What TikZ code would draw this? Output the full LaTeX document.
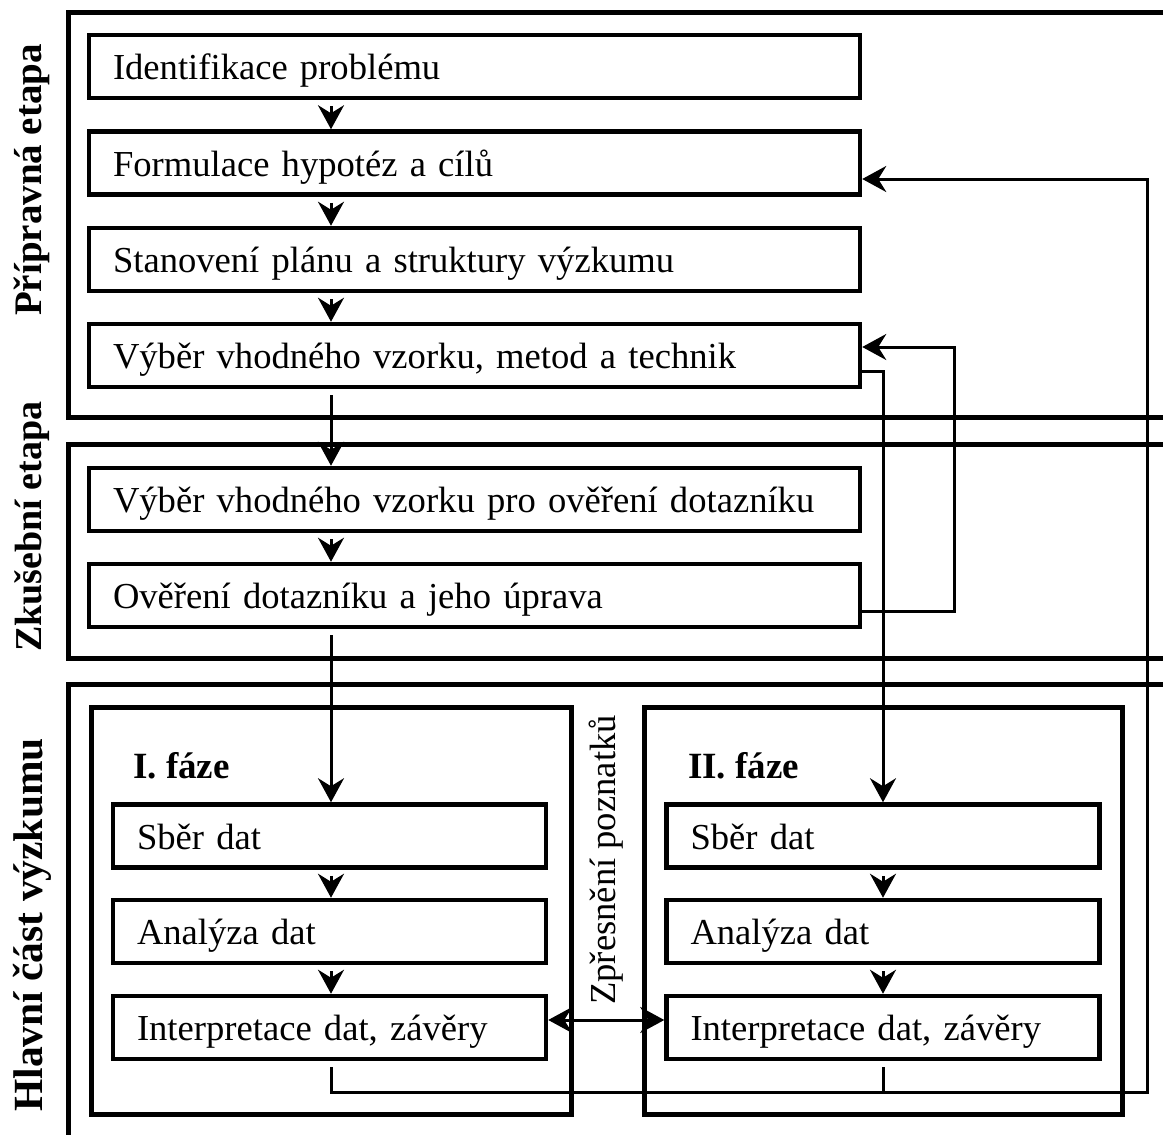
\documentclass[tikz,border=0pt]{standalone}
\usepackage{fontspec}
\setmainfont{Liberation Serif}
\usetikzlibrary{arrows.meta}
\begin{document}
\begin{tikzpicture}[x=1pt,y=-1pt,
  every node/.style={font=\fontsize{36.6}{44}\selectfont},
  frame/.style={draw, line width=5pt},
  panel/.style={draw, line width=5pt},
  box/.style={draw, line width=4.5pt, rectangle, minimum height=63pt,
    inner xsep=24pt, inner ysep=0pt, align=left,
    text height=30pt, text depth=4pt},
  widebox/.style={box, text width=723pt},
  smallbox/.style={box, text width=385pt},
  stagelabel/.style={rotate=90, anchor=base, inner sep=0pt,
    font=\fontsize{38}{44}\selectfont\bfseries},
  phase/.style={anchor=base west, inner sep=0pt,
    font=\fontsize{37}{44}\selectfont\bfseries},
  conn/.style={line width=3pt},
  tip/.tip={Stealth[length=24pt, width=26pt, inset=8pt]},
  arr/.style={conn, -tip},
]
\useasboundingbox (0,0) rectangle (1163,1135);
\clip (0,0) rectangle (1163,1135);

% stage frames (open to the right and bottom)
\draw[frame] (68,12) rectangle (1200,417);
\draw[frame] (68,444) rectangle (1200,658);
\draw[frame] (68,684) rectangle (1200,1180);

% phase panels of the main part
\draw[panel] (91,707) rectangle (571,1114);
\draw[panel] (644,707) rectangle (1122,1114);

% stage labels
\node[stagelabel, font=\fontsize{39}{44}\selectfont\bfseries] (l1) at (41,180) {Přípravná etapa};
\node[stagelabel] (l2) at (41,526.5) {Zkušební etapa};
\node[stagelabel, font=\fontsize{41.5}{48}\selectfont\bfseries] (l3) at (42,925) {Hlavní část výzkumu};

% preparatory and trial steps
\node[widebox] (b1) at (474.5,66.5) {Identifikace problému};
\node[widebox] (b2) at (474.5,163) {Formulace hypotéz a cílů};
\node[widebox] (b3) at (474.5,259.5) {Stanovení plánu a struktury výzkumu};
\node[widebox] (b4) at (474.5,355.5) {Výběr vhodného vzorku, metod a technik};
\node[widebox] (b5) at (474.5,499.5) {Výběr vhodného vzorku pro ověření dotazníku};
\node[widebox] (b6) at (474.5,595.5) {Ověření dotazníku a jeho úprava};

% phases
\node[phase] (f1) at (133,778) {I. fáze};
\node[phase] (f2) at (688,778) {II. fáze};
\node[smallbox] (s1) at (329.5,836) {Sběr dat};
\node[smallbox] (a1) at (329.5,931.5) {Analýza dat};
\node[smallbox] (i1) at (329.5,1027.5) {Interpretace dat, závěry};
\node[smallbox] (s2) at (883,836) {Sběr dat};
\node[smallbox] (a2) at (883,931.5) {Analýza dat};
\node[smallbox] (i2) at (883,1027.5) {Interpretace dat, závěry};

\node[rotate=90, anchor=base, inner sep=0pt] (zp) at (615,860) {Zpřesnění poznatků};

% routing guides
\coordinate (colL) at (331,0);
\coordinate (colR) at (883,0);
\coordinate (yin2) at (0,179);
\coordinate (yin4) at (0,347);
\coordinate (yout4) at (0,371);
\coordinate (yout6) at (0,611);
\coordinate (ydbl) at (0,1020);
\coordinate (ybot) at (0,1092);
\coordinate (xloop) at (954,0);
\coordinate (xfar) at (1147,0);

% main flow
\draw[arr, shorten <=6pt] (b1.south -| colL) -- (b2.north -| colL);
\draw[arr, shorten <=6pt] (b2.south -| colL) -- (b3.north -| colL);
\draw[arr, shorten <=6pt] (b3.south -| colL) -- (b4.north -| colL);
\draw[arr, shorten <=6pt] (b4.south -| colL) -- (b5.north -| colL);
\draw[arr, shorten <=6pt] (b5.south -| colL) -- (b6.north -| colL);
\draw[arr, shorten <=6pt] (b6.south -| colL) -- (s1.north -| colL);
\draw[arr, shorten <=6pt] (s1.south -| colL) -- (a1.north -| colL);
\draw[arr, shorten <=6pt] (a1.south -| colL) -- (i1.north -| colL);
\draw[arr, shorten <=6pt] (s2.south) -- (a2.north);
\draw[arr, shorten <=6pt] (a2.south) -- (i2.north);

% feedback and branch connectors
\draw[arr] (b4.east |- yout4) -| (s2.north);
\draw[arr] (b6.east |- yout6) -| (xloop |- yin4) -- (b4.east |- yin4);
\draw[arr, shorten <=6pt] (i1.south -| colL) |- (xfar |- ybot) |- (b2.east |- yin2);
\draw[conn, shorten <=6pt] (i2.south) -- (i2.south |- ybot);
\draw[conn, tip-tip] (i1.east |- ydbl) -- (i2.west |- ydbl);
\end{tikzpicture}
\end{document}
